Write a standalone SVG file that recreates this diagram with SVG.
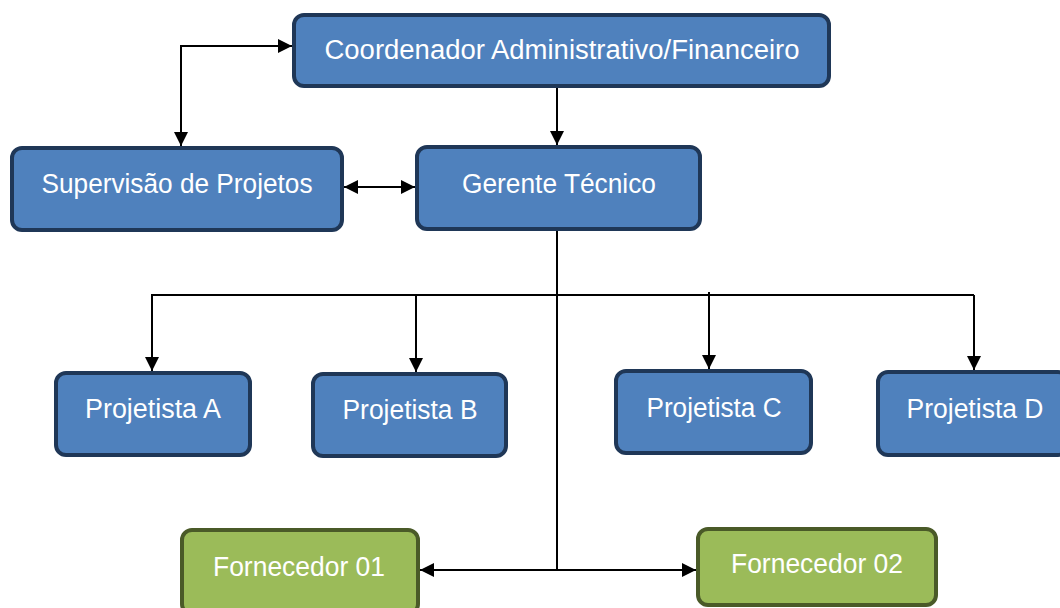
<svg xmlns="http://www.w3.org/2000/svg" width="1060" height="608" viewBox="0 0 1060 608">
<defs>
<marker id="ah" viewBox="0 0 10 10" refX="10" refY="5" markerWidth="7" markerHeight="7" orient="auto-start-reverse" markerUnits="strokeWidth">
<path d="M0,0 L10,5 L0,10 Z" fill="#000"/>
</marker>
<style>
.b rect{fill:#4f81bd;stroke:#1f3757;stroke-width:4}
.g rect{fill:#9bbb59;stroke:#4a5a28;stroke-width:4}
text{font-family:"Liberation Sans",Arial,sans-serif;font-size:27px;fill:#fff;text-anchor:middle}
.c path{fill:none;stroke:#000;stroke-width:2}
</style>
</defs>
<rect width="1060" height="608" fill="#fff"/>
<g class="c" id="connectors">
<path d="M181,146 V46 H292" marker-start="url(#ah)" marker-end="url(#ah)"/>
<path d="M557,88 V145" marker-end="url(#ah)"/>
<path d="M344,187 H415" marker-start="url(#ah)" marker-end="url(#ah)"/>
<path d="M557,231 V570"/>
<path d="M151,295 H974"/>
<path d="M152,295 V371" marker-end="url(#ah)"/>
<path d="M416,295 V372" marker-end="url(#ah)"/>
<path d="M709,292 V369" marker-end="url(#ah)"/>
<path d="M974,295 V370" marker-end="url(#ah)"/>
<path d="M420,570 H696" marker-start="url(#ah)" marker-end="url(#ah)"/>
</g>
<g class="b" id="coordenador"><rect x="294" y="15" width="535" height="71" rx="10"/><text x="562" y="59" textLength="475" lengthAdjust="spacingAndGlyphs">Coordenador Administrativo/Financeiro</text></g>
<g class="b" id="supervisao"><rect x="12" y="148" width="330" height="82" rx="10"/><text x="177" y="193" textLength="271" lengthAdjust="spacingAndGlyphs">Supervisão de Projetos</text></g>
<g class="b" id="gerente"><rect x="417" y="147" width="283" height="82" rx="10"/><text x="559" y="193" textLength="194" lengthAdjust="spacingAndGlyphs">Gerente Técnico</text></g>
<g class="b" id="projA"><rect x="56" y="373" width="194" height="82" rx="10"/><text x="153" y="418" textLength="136" lengthAdjust="spacingAndGlyphs">Projetista A</text></g>
<g class="b" id="projB"><rect x="313" y="374" width="193" height="82" rx="10"/><text x="410" y="419" textLength="135" lengthAdjust="spacingAndGlyphs">Projetista B</text></g>
<g class="b" id="projC"><rect x="616" y="371" width="195" height="82" rx="10"/><text x="714" y="417" textLength="135" lengthAdjust="spacingAndGlyphs">Projetista C</text></g>
<g class="b" id="projD"><rect x="878" y="372" width="190" height="83" rx="10"/><text x="975" y="418" textLength="137" lengthAdjust="spacingAndGlyphs">Projetista D</text></g>
<g class="g" id="forn01"><rect x="182" y="530" width="236" height="84" rx="10"/><text x="299" y="576" textLength="172" lengthAdjust="spacingAndGlyphs">Fornecedor 01</text></g>
<g class="g" id="forn02"><rect x="698" y="529" width="238" height="76" rx="10"/><text x="817" y="573" textLength="172" lengthAdjust="spacingAndGlyphs">Fornecedor 02</text></g>
</svg>
